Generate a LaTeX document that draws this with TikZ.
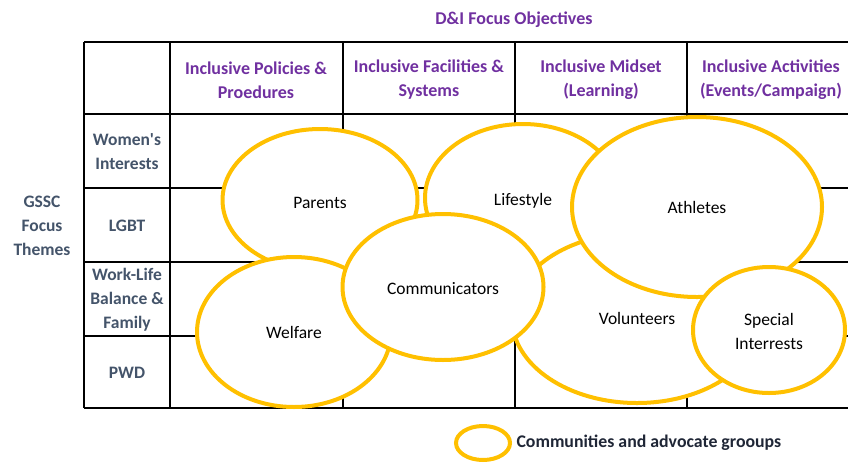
\documentclass[tikz,border=0pt]{standalone}
\usepackage{fontspec}
\setmainfont{Carlito}
\usetikzlibrary{shapes.geometric}
\definecolor{objpurple}{HTML}{7030A0}
\definecolor{themegray}{HTML}{44546A}
\definecolor{grpyellow}{HTML}{FFC000}
\definecolor{legendnavy}{HTML}{1F2636}

\begin{document}
\begin{tikzpicture}[x=1pt, y=-1pt]
\tikzset{every node/.style={font=\fontsize{17.5}{24}\selectfont},
  objective/.style={text=objpurple, font=\fontsize{18}{24}\selectfont\bfseries, align=center},
  theme/.style={text=themegray, font=\fontsize{17.5}{24}\selectfont\bfseries, align=center},
  group/.style={ellipse, draw=grpyellow, line width=4pt, fill=white, inner sep=0pt, align=center}}
        \useasboundingbox (0,0) rectangle (848,464);

        % table grid
        \draw[line width=1.2pt] (84, 42) -- (848, 42);
        \draw[line width=1.2pt] (84, 114) -- (848, 114);
        \draw[line width=1.2pt] (84, 188) -- (848, 188);
        \draw[line width=1.2pt] (84, 262) -- (848, 262);
        \draw[line width=1.2pt] (84, 336) -- (848, 336);
        \draw[line width=1.2pt] (84, 408) -- (848, 408);
        \draw[line width=1.2pt] (84, 42) -- (84, 408);
        \draw[line width=1.2pt] (170, 42) -- (170, 408);
        \draw[line width=1.2pt] (343, 42) -- (343, 408);
        \draw[line width=1.2pt] (515, 42) -- (515, 408);
        \draw[line width=1.2pt] (687, 42) -- (687, 408);

        \node[objective] (title) at (514, 20) {D\&I Focus Objectives};
        \node[objective] (policies) at (256, 80) {Inclusive Policies \&\\Proedures};
        \node[objective] (facilities) at (429, 80) {Inclusive Facilities \&\\Systems};
        \node[objective] (mindset) at (601, 80) {Inclusive Midset\\(Learning)};
        \node[objective] (activities) at (771, 80) {Inclusive Activities\\(Events/Campaign)};

        \node[theme] (gssc) at (42, 226) {GSSC\\Focus\\Themes};
        \node[theme] (women) at (127, 152) {Women\textquotesingle s\\Interests};
        \node[theme] (lgbt) at (127, 226) {LGBT};
        \node[theme] (worklife) at (127, 300) {Work-Life\\Balance \&\\Family};
        \node[theme] (pwd) at (127, 373) {PWD};

        % communities
        \node[group, minimum width=195pt, minimum height=142pt, label={[yshift=-3pt]center:Parents}] (parents) at (320, 200) {};
        \node[group, minimum width=196pt, minimum height=148pt, label={[yshift=-3pt]center:Lifestyle}] (lifestyle) at (523, 198) {};
        \node[group, minimum width=250pt, minimum height=170pt] (volunteers) at (637, 318) {Volunteers};
        \node[group, minimum width=250pt, minimum height=180pt] (athletes) at (697, 207) {Athletes};
        \node[group, minimum width=152pt, minimum height=126pt, label={[yshift=-1pt, align=center]center:Special\\Interrests}] (special) at (769, 330) {};
        \node[group, minimum width=194pt, minimum height=150pt] (welfare) at (294, 332) {Welfare};
        \node[group, minimum width=201pt, minimum height=146pt, label={[yshift=-2pt]center:Communicators}] (communicators) at (443, 287) {};

        % legend
        \node[group, minimum width=54pt, minimum height=34pt] (legendmark) at (483, 443) {};
        \node[right, text=legendnavy, font=\fontsize{17.8}{24}\selectfont\bfseries] (legendtext) at (513, 443) {Communities and advocate grooups};
\end{tikzpicture}
\end{document}
